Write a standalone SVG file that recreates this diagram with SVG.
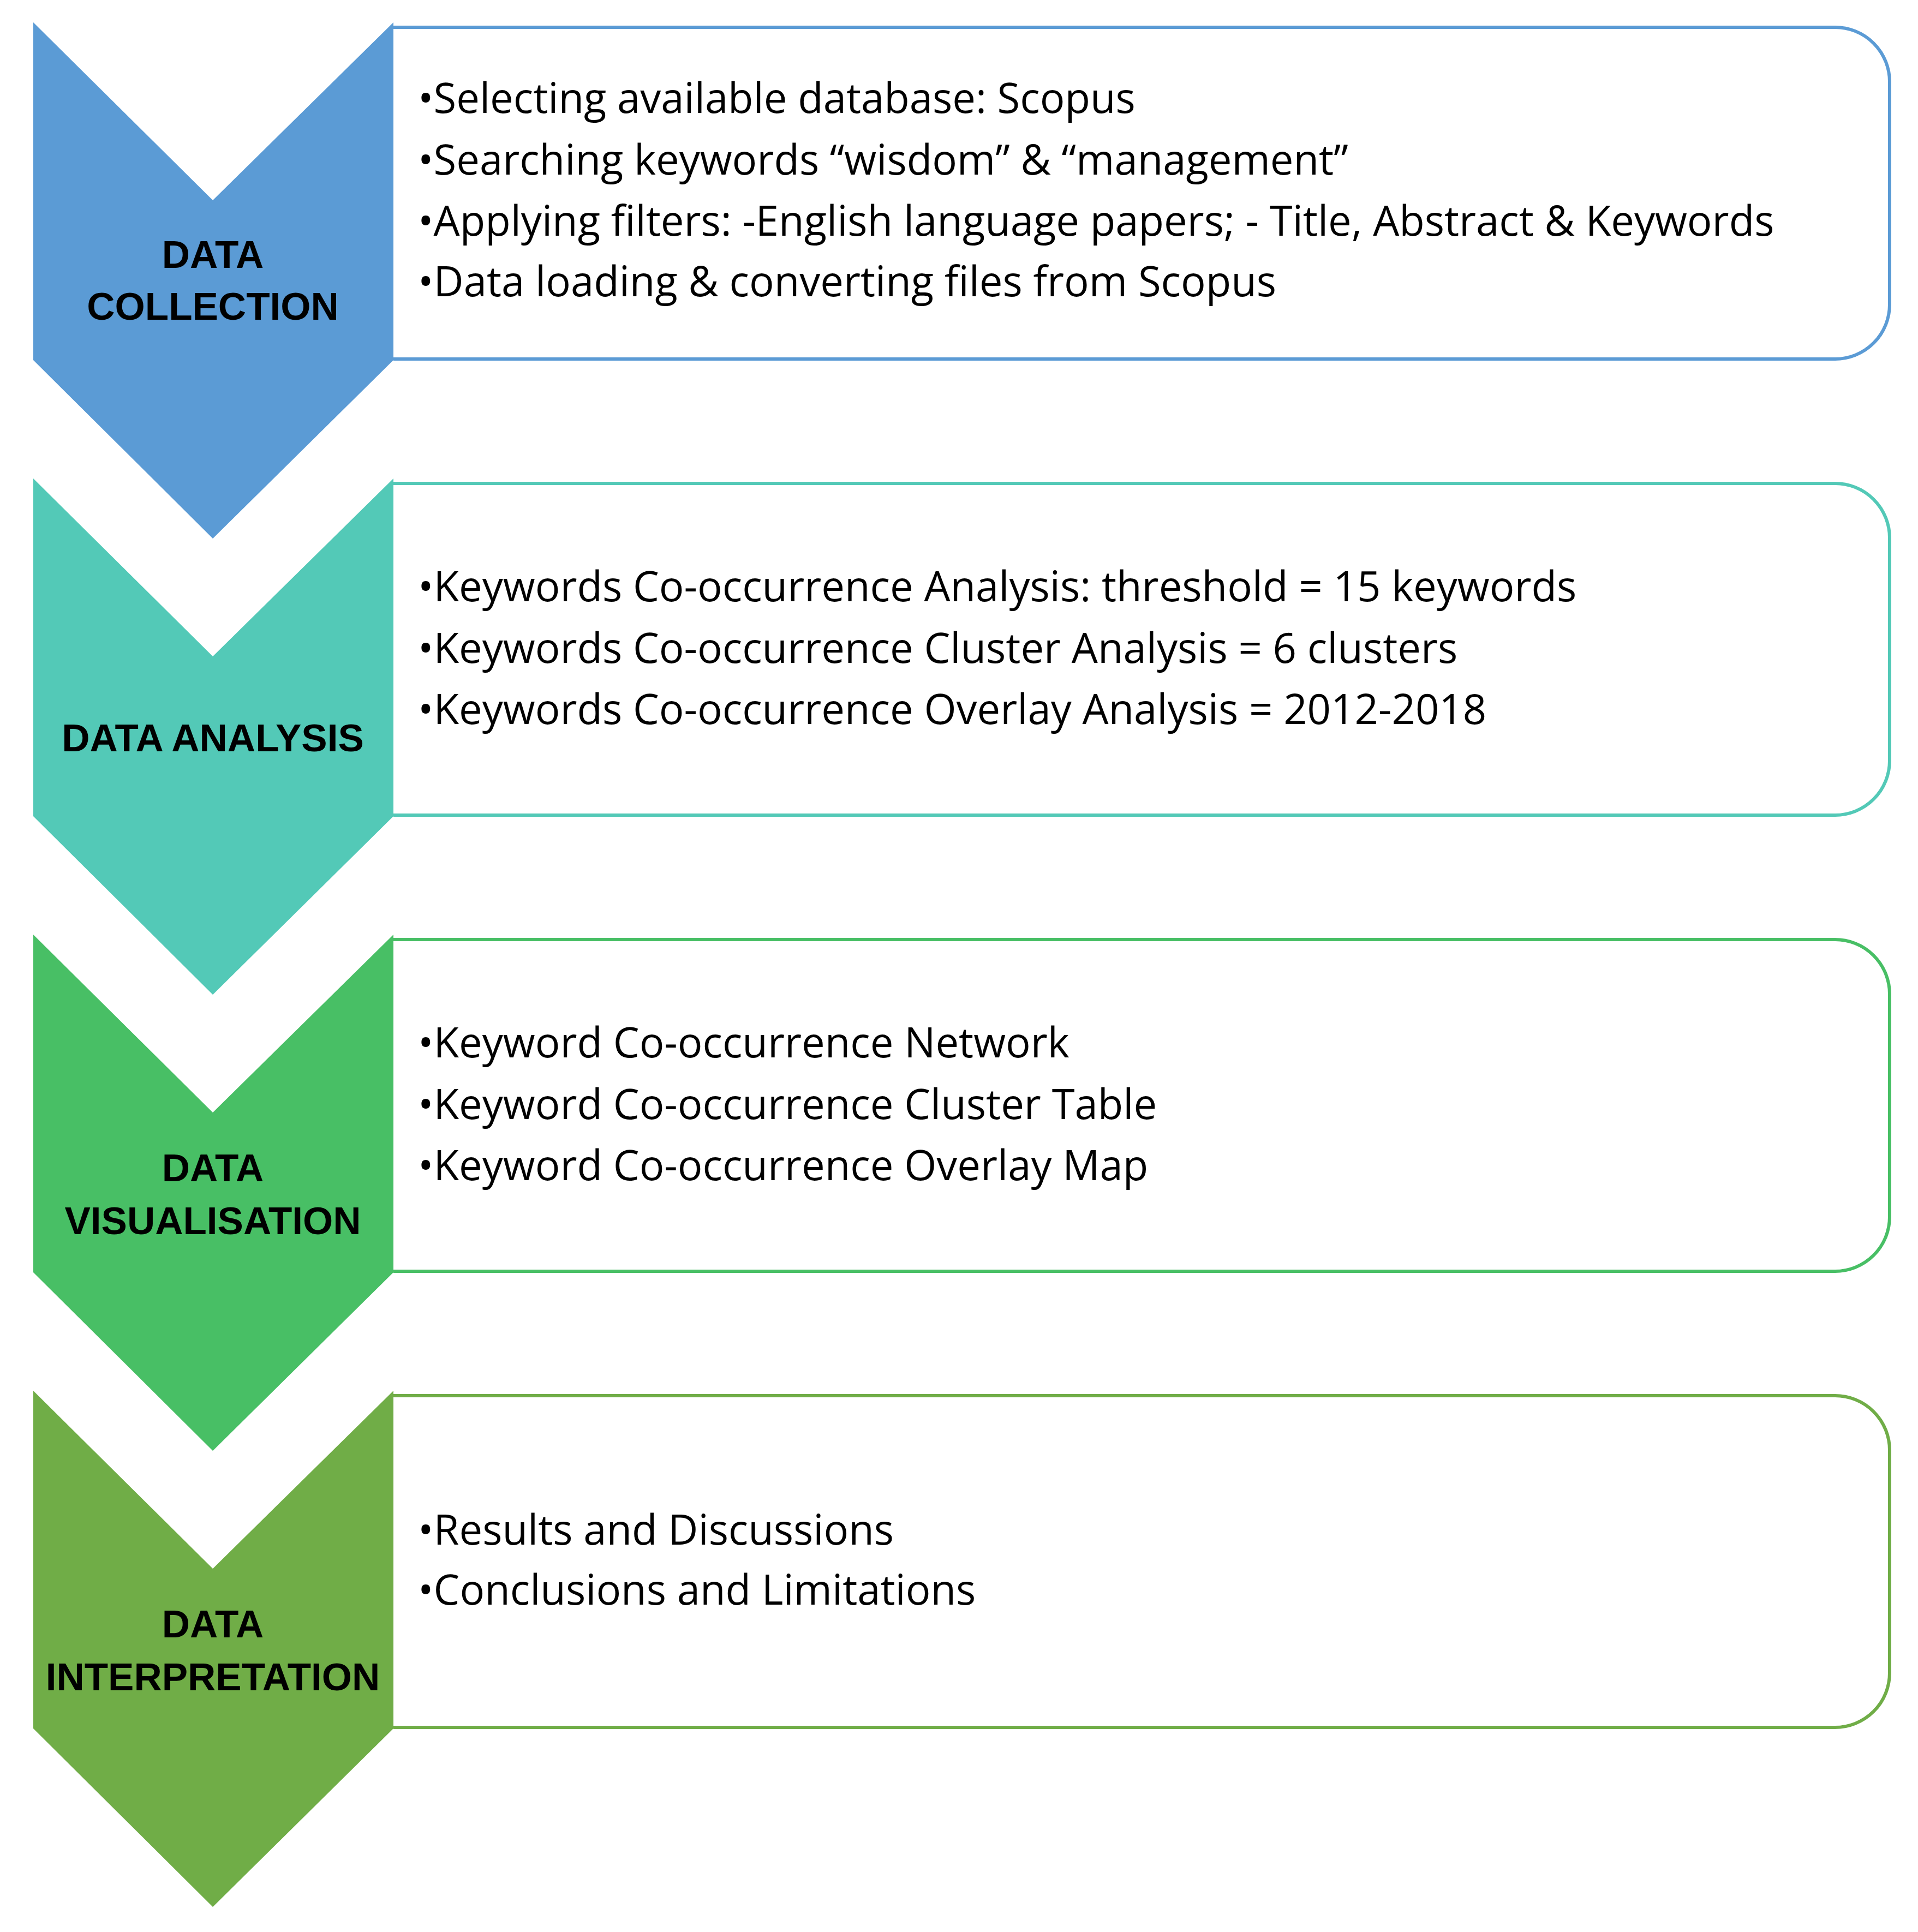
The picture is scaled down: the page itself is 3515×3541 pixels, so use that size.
<svg xmlns="http://www.w3.org/2000/svg" width="3515" height="3541" viewBox="0 0 3515 3541">
<style>
.box{fill:#fff;stroke-width:6}
.lbl{font-family:"Liberation Sans",Arial,sans-serif;font-weight:bold;font-size:71px;fill:#000;text-anchor:middle}
.txt{font-family:"Open Sans","Liberation Sans",sans-serif;font-size:76px;fill:#000}
</style>
<rect width="3515" height="3541" fill="#fff"/>
<defs>
<polygon id="chev" points="61,41 390,367 721,41 721,660 390,987 61,660"/>
<path id="bx" d="M721,50 H3363 A100,100 0 0 1 3463,150 V558 A100,100 0 0 1 3363,658 H721"/>
</defs>
<g id="step1">
<use href="#chev" fill="#5B9BD5"/>
<use href="#bx" class="box" stroke="#5B9BD5"/>
<text class="lbl" x="390" y="491">DATA</text>
<text class="lbl" x="390" y="586">COLLECTION</text>
<text class="txt" x="766" y="207">•Selecting available database: Scopus</text>
<text class="txt" x="766" y="320">•Searching keywords “wisdom” &amp; “management”</text>
<text class="txt" x="766" y="432">•Applying filters: -English language papers; - Title, Abstract &amp; Keywords</text>
<text class="txt" x="766" y="543">•Data loading &amp; converting files from Scopus</text>
</g>
<g id="step2" transform="translate(0,836)">
<use href="#chev" fill="#53C9B7"/>
<use href="#bx" class="box" stroke="#53C9B7"/>
<text class="lbl" x="390" y="541">DATA ANALYSIS</text>
<text class="txt" x="766" y="266">•Keywords Co-occurrence Analysis: threshold = 15 keywords</text>
<text class="txt" x="766" y="379">•Keywords Co-occurrence Cluster Analysis = 6 clusters</text>
<text class="txt" x="766" y="491">•Keywords Co-occurrence Overlay Analysis = 2012-2018</text>
</g>
<g id="step3" transform="translate(0,1672)">
<use href="#chev" fill="#48BF65"/>
<use href="#bx" class="box" stroke="#48BF65"/>
<text class="lbl" x="390" y="493">DATA</text>
<text class="lbl" x="390" y="590">VISUALISATION</text>
<text class="txt" x="766" y="266">•Keyword Co-occurrence Network</text>
<text class="txt" x="766" y="379">•Keyword Co-occurrence Cluster Table</text>
<text class="txt" x="766" y="491">•Keyword Co-occurrence Overlay Map</text>
</g>
<g id="step4" transform="translate(0,2508)">
<use href="#chev" fill="#70AD47"/>
<use href="#bx" class="box" stroke="#70AD47"/>
<text class="lbl" x="390" y="493">DATA</text>
<text class="lbl" x="390" y="590">INTERPRETATION</text>
<text class="txt" x="766" y="323">•Results and Discussions</text>
<text class="txt" x="766" y="433">•Conclusions and Limitations</text>
</g>
<g id="connectors"/>
</svg>
